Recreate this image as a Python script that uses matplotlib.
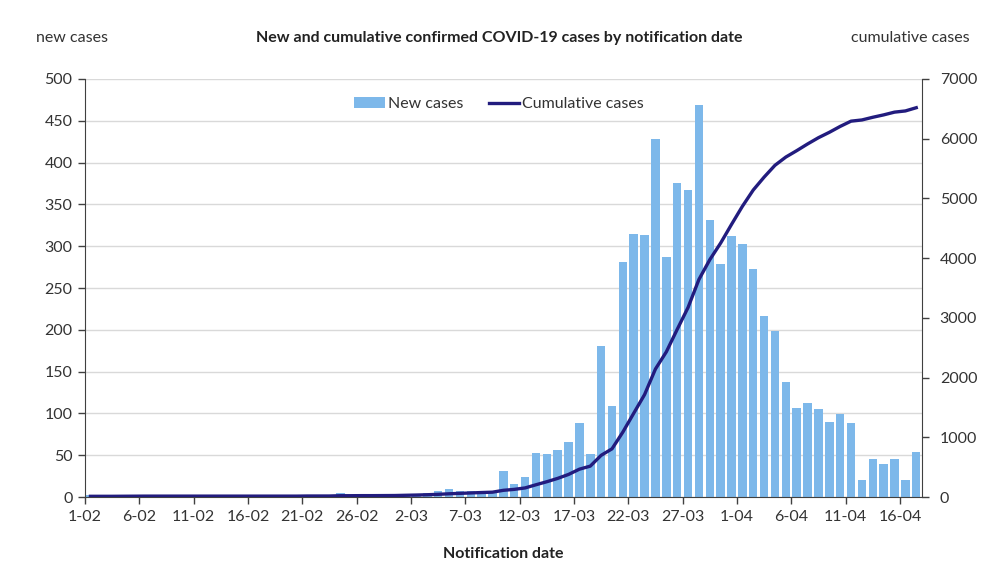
import matplotlib

matplotlib.use("Agg")
import matplotlib.pyplot as plt
import pandas as pd
from matplotlib.lines import Line2D
from matplotlib.patches import Patch

plt.rcParams["font.family"] = ["Lato", "DejaVu Sans"]

# daily categories 1 Feb - 17 Apr 2020
days = pd.date_range("2020-02-01", "2020-04-17", freq="D")

new_feb = [2, 0, 0, 1, 1, 1, 0, 0, 0, 0, 0, 0, 0, 0, 0, 0, 0, 0, 0, 0,
           2, 0, 0, 5, 0, 1, 0, 1, 1]
new_mar = [4, 4, 5, 7, 9, 7, 7, 7, 6, 31, 16, 24, 53, 51, 56, 66, 88, 51,
           181, 109, 281, 315, 313, 428, 287, 376, 367, 469, 331, 279, 312]
new_apr = [303, 273, 216, 198, 138, 107, 112, 105, 90, 99, 88, 20, 45, 40,
           46, 20, 54]
new_cases = new_feb + new_mar + new_apr

cum_feb = [12, 12, 12, 13, 14, 15, 15, 15, 15, 15, 15, 15, 15, 15, 15, 15,
           15, 15, 15, 15, 17, 17, 17, 22, 22, 23, 23, 24, 25]
cum_mar = [29, 33, 38, 45, 54, 61, 68, 75, 81, 112, 128, 152, 205, 256, 312,
           378, 466, 517, 698, 807, 1088, 1403, 1716, 2144, 2431, 2807, 3174,
           3643, 3974, 4253, 4565]
cum_apr = [4868, 5141, 5357, 5555, 5693, 5800, 5912, 6017, 6107, 6206, 6294,
           6314, 6359, 6399, 6445, 6465, 6519]
cum_cases = cum_feb + cum_mar + cum_apr

tick_labels = ["1-02", "6-02", "11-02", "16-02", "21-02", "26-02", "2-03",
               "7-03", "12-03", "17-03", "22-03", "27-03", "1-04", "6-04",
               "11-04", "16-04"]

bar_color = "#7db8ea"
line_color = "#221c7e"
text_color = "#333333"

fig = plt.figure(figsize=(9.99, 5.72), dpi=100)
ax = fig.add_axes([0.0851, 0.1311, 0.8375, 0.7308])
ax2 = ax.twinx()

x = list(range(len(days)))
ax.bar(x, new_cases, width=0.78, color=bar_color, zorder=2)
ax2.plot(x, cum_cases, color=line_color, linewidth=2.4, zorder=3)

ax.set_xlim(-0.5, len(days) - 0.5)
ax.set_ylim(0, 500)
ax2.set_ylim(0, 7000)
ax.set_yticks(range(0, 501, 50))
ax2.set_yticks(range(0, 7001, 1000))

# ticks sit on category boundaries, every 5 days
ax.set_xticks([i - 0.5 for i in range(0, len(days), 5)])
ax.set_xticklabels(tick_labels)

ax.grid(axis="y", color="#d9d9d9", linewidth=1, zorder=0)
ax.set_axisbelow(True)

for a in (ax, ax2):
    a.spines["top"].set_visible(False)
    a.tick_params(axis="both", direction="out", length=5, width=1,
                  labelsize=11.5, labelcolor=text_color, color="#404040")
ax.spines["right"].set_visible(False)
ax2.spines["left"].set_visible(False)
ax2.spines["bottom"].set_visible(False)
ax.spines["left"].set_color("#404040")
ax.spines["bottom"].set_color("#404040")
ax2.spines["right"].set_color("#404040")
ax.tick_params(axis="y", pad=4)
ax2.tick_params(axis="y", pad=8)
ax.tick_params(axis="x", pad=4)

ax.set_xlabel("Notification date", fontsize=11.5, fontweight="bold",
              color="#222222", labelpad=17)

fig.text(0.072, 0.934, "new cases", ha="center", va="center",
         fontsize=11.5, color=text_color)
fig.text(0.911, 0.934, "cumulative cases", ha="center", va="center",
         fontsize=11.5, color=text_color)
fig.text(0.50, 0.934,
         "New and cumulative confirmed COVID-19 cases by notification date",
         ha="center", va="center", fontsize=11.5, fontweight="bold",
         color="#222222")

handles = [Patch(facecolor=bar_color, edgecolor="none"),
           Line2D([0], [0], color=line_color, linewidth=2.4)]
ax2.legend(handles, ["New cases", "Cumulative cases"], loc="center",
           bbox_to_anchor=(0.495, 0.94), ncol=2, frameon=False,
           fontsize=11.5, handlelength=1.9, handletextpad=0.2,
           columnspacing=1.6, labelcolor=text_color)

fig.savefig("out.png", dpi=100, facecolor="white")
